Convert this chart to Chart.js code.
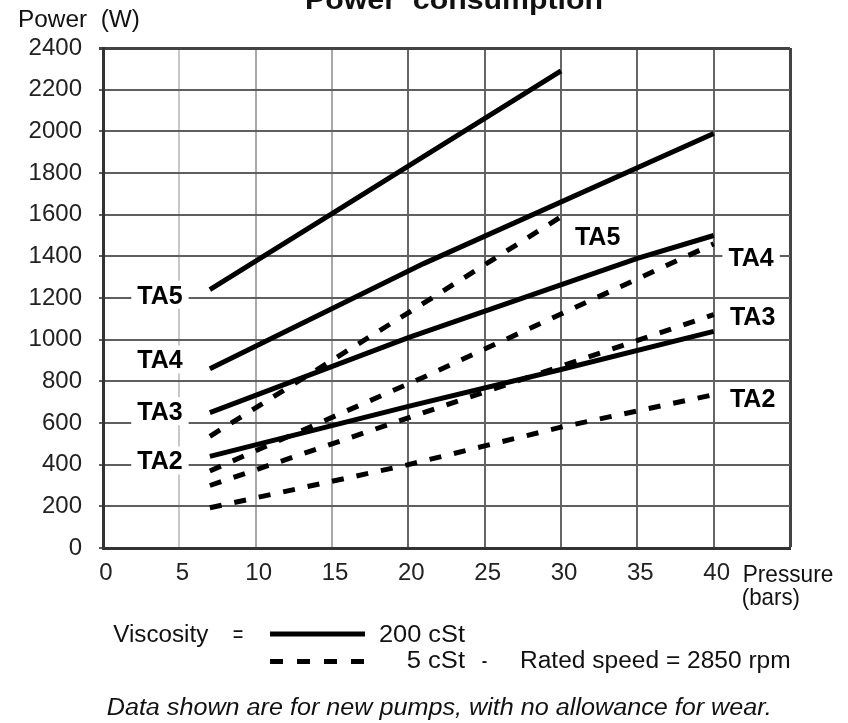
<!DOCTYPE html>
<html>
<head>
<meta charset="utf-8">
<style>
html,body{margin:0;padding:0;background:#fff;}
#wrap{width:848px;height:723px;position:relative;overflow:hidden;}
canvas{display:block;}
</style>
<script src="https://cdn.jsdelivr.net/npm/chart.js@4.4.1/dist/chart.umd.min.js"></script>
</head>
<body>
<div id="wrap"><canvas id="c" width="848" height="723"></canvas></div>
<script>
// ---------- data ----------
const pressureTicks = [0, 5, 10, 15, 20, 25, 30, 35, 40];
const powerTicks = [0, 200, 400, 600, 800, 1000, 1200, 1400, 1600, 1800, 2000, 2200, 2400];

// 200 cSt (solid) : [pressure bar, power W]
const ta5_200cSt = [[7, 1240], [15, 1605], [30, 2290]];
const ta4_200cSt = [[7, 860], [21, 1365], [40, 1990]];
const ta3_200cSt = [[7, 650], [20, 1010], [35, 1390], [40, 1500]];
const ta2_200cSt = [[7, 440], [20, 680], [30, 857], [40, 1040]];

// 5 cSt (dashed)
const ta5_5cSt = [[7, 536], [21, 1175], [30, 1590]];
const ta4_5cSt = [[7, 370], [21, 820], [40, 1460]];
const ta3_5cSt = [[7, 300], [21, 650], [40, 1120]];
const ta2_5cSt = [[7, 193], [20, 400], [30, 580], [40, 736]];

const leftLabelNames = ['TA5', 'TA4', 'TA3', 'TA2'];
const rightLabelNames = ['TA5', 'TA4', 'TA3', 'TA2'];

// ---------- layout / annotation anchors (data units) ----------
const leftLabelAnchorX = 3.73;
const leftLabelAnchorY = [1216, 905, 656, 420];
const rightLabelAnchorX = [32.4, 42.45, 42.55, 42.55];
const rightLabelAnchorY = [1496, 1397, 1112, 718];

const toXY = arr => arr.map(p => ({x: p[0], y: p[1]}));
const FONT = '"Liberation Sans", Arial, sans-serif';
const DASH = [12, 13];

function solid(label, arr) {
  return {label, data: toXY(arr), borderColor: '#000', borderWidth: 5, pointRadius: 0,
          tension: 0, fill: false, borderCapStyle: 'butt'};
}
function dashed(label, arr) {
  return {label, data: toXY(arr), borderColor: '#000', borderWidth: 5, pointRadius: 0,
          tension: 0, fill: false, borderDash: DASH, borderCapStyle: 'butt'};
}

function fitText(ctx, text, left, baseline, width, font) {
  ctx.save();
  ctx.font = font;
  ctx.textAlign = 'left';
  ctx.textBaseline = 'alphabetic';
  const w = ctx.measureText(text).width;
  ctx.translate(left, baseline);
  ctx.scale(width / w, 1);
  ctx.fillText(text, 0, 0);
  ctx.restore();
}

const labelPlugin = {
  id: 'taLabels',
  beforeDatasetsDraw(chart) {
    const ctx = chart.ctx, xs = chart.scales.x, ys = chart.scales.y;
    ctx.save();
    const fs = 25;
    ctx.font = 'bold ' + fs + 'px ' + FONT;
    const draw = (t, cx, cy) => {
      const w = ctx.measureText(t).width;
      ctx.fillStyle = '#fff';
      ctx.fillRect(cx - w / 2 - 6, cy - 14, w + 12, 28);
      ctx.fillStyle = '#000';
      ctx.textAlign = 'center';
      ctx.textBaseline = 'alphabetic';
      ctx.fillText(t, cx, cy + 0.358 * fs);
    };
    leftLabelNames.forEach((t, i) => draw(t, xs.getPixelForValue(leftLabelAnchorX), ys.getPixelForValue(leftLabelAnchorY[i])));
    rightLabelNames.forEach((t, i) => draw(t, xs.getPixelForValue(rightLabelAnchorX[i]), ys.getPixelForValue(rightLabelAnchorY[i])));
    ctx.restore();
  },
  afterDraw(chart) {
    const ctx = chart.ctx;
    ctx.save();
    ctx.fillStyle = '#111';
    fitText(ctx, 'Power  consumption', 305, 8.5, 298, 'bold 28px ' + FONT);
    fitText(ctx, 'Power  (W)', 18, 26.7, 122, '23px ' + FONT);
    fitText(ctx, 'Pressure', 742.7, 581.7, 90.6, '24px ' + FONT);
    fitText(ctx, '(bars)', 741.7, 605, 58.3, '24px ' + FONT);
    fitText(ctx, 'Viscosity', 113.3, 641.7, 95, '23px ' + FONT);
    fitText(ctx, '=', 232.7, 641.7, 10.6, '23px ' + FONT);
    fitText(ctx, '200 cSt', 379, 641.7, 86, '23px ' + FONT);
    fitText(ctx, '5 cSt', 406.7, 668.3, 58.3, '23px ' + FONT);
    fitText(ctx, '-', 481.7, 668.3, 5.5, '23px ' + FONT);
    fitText(ctx, 'Rated speed = 2850 rpm', 520, 668.3, 270.7, '23px ' + FONT);
    fitText(ctx, 'Data shown are for new pumps, with no allowance for wear.', 106.7, 715, 665, 'italic 23px ' + FONT);
    // legend samples
    ctx.strokeStyle = '#000';
    ctx.lineWidth = 5;
    ctx.lineCap = 'butt';
    ctx.beginPath(); ctx.moveTo(270, 634); ctx.lineTo(365, 634); ctx.stroke();
    ctx.setLineDash([13, 14]);
    ctx.beginPath(); ctx.moveTo(270, 661.5); ctx.lineTo(365, 661.5); ctx.stroke();
    ctx.restore();
  }
};

new Chart(document.getElementById('c'), {
  type: 'line',
  data: {
    datasets: [
      solid('TA5 200 cSt', ta5_200cSt),
      solid('TA4 200 cSt', ta4_200cSt),
      solid('TA3 200 cSt', ta3_200cSt),
      solid('TA2 200 cSt', ta2_200cSt),
      dashed('TA5 5 cSt', ta5_5cSt),
      dashed('TA4 5 cSt', ta4_5cSt),
      dashed('TA3 5 cSt', ta3_5cSt),
      dashed('TA2 5 cSt', ta2_5cSt)
    ]
  },
  options: {
    responsive: false,
    animation: false,
    devicePixelRatio: 1,
    layout: {padding: {top: 48, right: 58, left: 0, bottom: 0}},
    plugins: {legend: {display: false}, tooltip: {enabled: false}, title: {display: false}},
    scales: {
      x: {
        type: 'linear', min: 0, max: 45,
        afterFit: s => { s.height = 175; },
        afterBuildTicks: s => { s.ticks = pressureTicks.concat([45]).map(v => ({value: v})); },
        ticks: {
          stepSize: 5, autoSkip: false, maxRotation: 0, padding: 11, labelOffset: 3,
          color: '#222', font: {family: FONT, size: 24},
          callback: v => (pressureTicks.includes(v) ? String(v) : '')
        },
        grid: {
          drawTicks: false,
          color: c => {
            const v = c.tick ? c.tick.value : 0;
            if (v >= 45) return '#444';
            if (v === 5) return '#c8c8c8';
            if (v === 10 || v === 15) return '#a8a8a8';
            return '#666';
          },
          lineWidth: c => (c.tick && c.tick.value >= 45 ? 3 : 2)
        },
        border: {display: true, color: '#333', width: 3}
      },
      y: {
        type: 'linear', min: 0, max: 2400,
        afterFit: s => { s.width = 103; },
        afterBuildTicks: s => { s.ticks = powerTicks.map(v => ({value: v})); },
        ticks: {
          stepSize: 200, padding: 17, color: '#222', font: {family: FONT, size: 24},
          callback: v => String(v)
        },
        grid: {
          tickLength: 4,
          color: c => (c.tick && c.tick.value >= 2400 ? '#444' : '#5f5f5f'),
          lineWidth: c => (c.tick && c.tick.value >= 2400 ? 3 : 2)
        },
        border: {display: true, color: '#333', width: 3}
      }
    }
  },
  plugins: [labelPlugin]
});
</script>
</body>
</html>
